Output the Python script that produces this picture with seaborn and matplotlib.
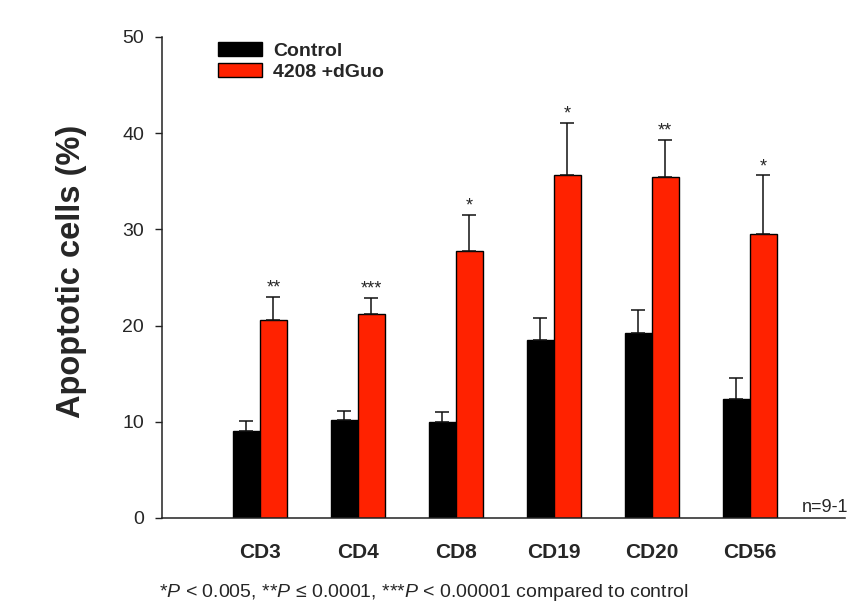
import matplotlib
matplotlib.use("Agg")
import matplotlib.pyplot as plt
import seaborn as sns
import pandas as pd
import numpy as np
from matplotlib.patches import Patch

# values
categories = ["CD3", "CD4", "CD8", "CD19", "CD20", "CD56"]
control_mean = [9.0, 10.2, 10.0, 18.5, 19.2, 12.4]
control_err = [1.1, 0.9, 1.0, 2.3, 2.4, 2.2]
treated_mean = [20.6, 21.2, 27.8, 35.7, 35.4, 29.5]
treated_err = [2.4, 1.7, 3.7, 5.4, 3.9, 6.1]
stars = ["**", "***", "*", "*", "**", "*"]
groups = ["Control", "4208 +dGuo"]
colors = ["#000000", "#ff2200"]

df = pd.DataFrame({
    "cell": categories * 2,
    "group": [groups[0]] * len(categories) + [groups[1]] * len(categories),
    "value": control_mean + treated_mean,
})

sns.set_style("white")
plt.rcParams["font.family"] = ["Liberation Sans", "DejaVu Sans"]
plt.rcParams["mathtext.fontset"] = "custom"
plt.rcParams["mathtext.rm"] = "Liberation Sans"
plt.rcParams["mathtext.it"] = "Liberation Sans:italic"

fig = plt.figure(figsize=(8.49, 6.03), dpi=100)
ax = fig.add_axes([0.1908, 0.141, 0.804, 0.7977])

sns.barplot(data=df, x="cell", y="value", hue="group", palette=colors,
            saturation=1, width=0.55, errorbar=None, edgecolor="black",
            linewidth=1, legend=False, ax=ax)

# one-sided error bars and significance stars
for cont, errs in zip(ax.containers, [control_err, treated_err]):
    xs = [p.get_x() + p.get_width() / 2 for p in cont.patches]
    ys = [p.get_height() for p in cont.patches]
    ax.errorbar(xs, ys, yerr=[np.zeros(len(errs)), errs], fmt="none",
                ecolor="#111111", elinewidth=1.1, capsize=5, capthick=1.1,
                zorder=1)

for p, e, s in zip(ax.containers[1].patches, treated_err, stars):
    ax.text(p.get_x() + p.get_width() / 2, p.get_height() + e, s,
            ha="center", va="bottom", fontsize=13)

ax.set_ylim(0, 50)
ax.set_yticks([0, 10, 20, 30, 40, 50])
ax.set_xlabel("")
ax.set_ylabel("Apoptotic cells (%)", fontsize=23.5, fontweight="bold")
ax.yaxis.set_label_coords(-0.110, 0.513)
sns.despine(ax=ax)
for sp in ["left", "bottom"]:
    ax.spines[sp].set_color("#222222")
    ax.spines[sp].set_linewidth(1.1)
ax.tick_params(axis="y", direction="out", length=5, width=1, color="#222222",
               labelsize=14, left=True, pad=8)
ax.tick_params(axis="x", length=0, labelsize=15, pad=18)
for lab in ax.get_xticklabels():
    lab.set_fontweight("bold")

handles = [Patch(facecolor=c, edgecolor="black", linewidth=1) for c in colors]
ax.legend(handles, groups, loc="upper left", bbox_to_anchor=(0.056, 1.026),
          frameon=False, handlelength=2.3, handleheight=0.7,
          handletextpad=0.55, labelspacing=0.2, prop={"weight": "bold", "size": 14})

fig.text(0.999, 0.145, "n=9-1", ha="right", va="bottom", fontsize=13)
fig.text(0.187, 0.0,
         r"*$\mathit{P}$ < 0.005, **$\mathit{P}$ ≤ 0.0001, ***$\mathit{P}$ < 0.00001 compared to control",
         ha="left", va="bottom", fontsize=14)

ax.set_xlim(-1, 5.97)
fig.savefig("out.png", dpi=100)
